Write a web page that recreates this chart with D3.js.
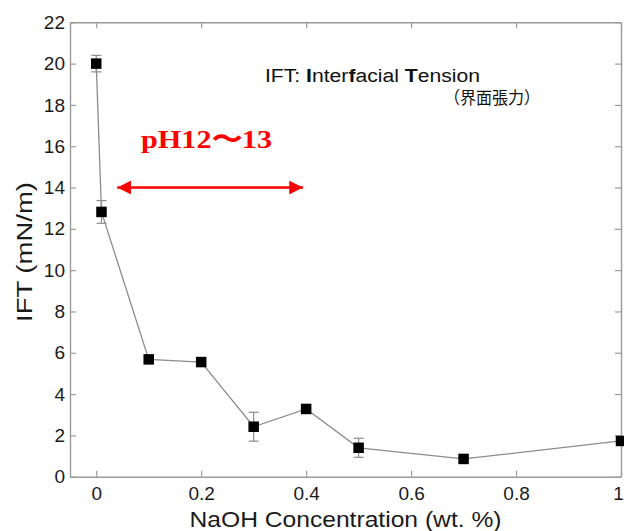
<!DOCTYPE html>
<html>
<head>
<meta charset="utf-8">
<script src="https://cdn.jsdelivr.net/npm/d3@7"></script>
<style>
  body { margin: 0; background: #fff; }
  text { font-family: "Liberation Sans", Arial, sans-serif; }
</style>
</head>
<body>
<div id="chart"></div>
<script>
const width = 624;
const height = 531;

// NaOH concentration (wt. %) and IFT (mN/m)
const naoh = [0, 0.01, 0.1, 0.2, 0.3, 0.4, 0.5, 0.7, 1.0];
const ift = [20.0, 12.82, 5.68, 5.55, 2.42, 3.28, 1.40, 0.86, 1.73];
const iftErr = [0.4, 0.55, 0, 0, 0.7, 0, 0.46, 0, 0];

const xTicks = [0, 0.2, 0.4, 0.6, 0.8, 1];
const yTicks = [0, 2, 4, 6, 8, 10, 12, 14, 16, 18, 20, 22];

// pH range arrow (data units)
const phArrow = [0.04, 0.394];
const phArrowY = 14;

const margin = { left: 70, right: 3, top: 22.3, bottom: 54.3 };

const x = d3
  .scaleLinear()
  .domain([-0.05, 1])
  .range([margin.left, width - margin.right]);

const y = d3
  .scaleLinear()
  .domain([0, 22])
  .range([height - margin.bottom, margin.top]);

const svg = d3
  .select("#chart")
  .append("svg")
  .attr("width", width)
  .attr("height", height);

const frameColor = "#9a9a9a";
const tickLen = 6;

// axes (ticks inward, mirrored on top/right)
const xAxis = d3
  .axisBottom(x)
  .tickValues(xTicks)
  .tickSizeInner(-tickLen)
  .tickSizeOuter(0)
  .tickPadding(10)
  .tickFormat((d) => (d === 0 || d === 1 ? d : d3.format(".1f")(d)));

const yAxis = d3
  .axisLeft(y)
  .tickValues(yTicks)
  .tickSizeInner(-tickLen)
  .tickSizeOuter(0)
  .tickPadding(5);

const gx = svg
  .append("g")
  .attr("transform", `translate(0,${y(0)})`)
  .call(xAxis);

const gy = svg
  .append("g")
  .attr("transform", `translate(${x(-0.05)},0)`)
  .call(yAxis);

svg
  .append("g")
  .attr("transform", `translate(0,${y(22)})`)
  .call(d3.axisTop(x).tickValues(xTicks).tickSizeInner(-tickLen).tickSizeOuter(0).tickFormat(""));

svg
  .append("g")
  .attr("transform", `translate(${x(1)},0)`)
  .call(d3.axisRight(y).tickValues(yTicks).tickSizeInner(-tickLen).tickSizeOuter(0).tickFormat(""));

svg.selectAll(".domain").attr("stroke", frameColor).attr("stroke-width", 1.4);
svg.selectAll(".tick line").attr("stroke", frameColor).attr("stroke-width", 1.2);
svg
  .selectAll(".tick text")
  .attr("fill", "#1a1a1a")
  .style("font-size", "19px");

// keep the last x label inside the picture
gx.selectAll(".tick text")
  .filter((d) => d === 1)
  .attr("dx", "-3");

// line
svg
  .append("path")
  .datum(naoh.map((d, i) => [d, ift[i]]))
  .attr("fill", "none")
  .attr("stroke", "#8c8c8c")
  .attr("stroke-width", 1.3)
  .attr("d", d3.line().x((d) => x(d[0])).y((d) => y(d[1])));

// error bars
const errData = naoh
  .map((d, i) => ({ x: d, y: ift[i], e: iftErr[i] }))
  .filter((d) => d.e > 0);

const eb = svg.append("g").attr("stroke", "#8c8c8c").attr("stroke-width", 1.2);
errData.forEach((d) => {
  eb.append("line")
    .attr("x1", x(d.x)).attr("x2", x(d.x))
    .attr("y1", y(d.y - d.e)).attr("y2", y(d.y + d.e));
  [d.y - d.e, d.y + d.e].forEach((v) => {
    eb.append("line")
      .attr("x1", x(d.x) - 5).attr("x2", x(d.x) + 5)
      .attr("y1", y(v)).attr("y2", y(v));
  });
});

// markers
const ms = 10.5;
svg
  .append("g")
  .selectAll("rect")
  .data(naoh.map((d, i) => [d, ift[i]]))
  .join("rect")
  .attr("x", (d) => x(d[0]) - ms / 2)
  .attr("y", (d) => y(d[1]) - ms / 2)
  .attr("width", ms)
  .attr("height", ms)
  .attr("fill", "#000");

// axis titles
svg
  .append("text")
  .attr("x", (x(-0.05) + x(1)) / 2)
  .attr("y", 527)
  .attr("text-anchor", "middle")
  .style("font-size", "22px")
  .attr("textLength", 312)
  .attr("lengthAdjust", "spacingAndGlyphs")
  .attr("fill", "#1a1a1a")
  .text("NaOH Concentration (wt. %)");

svg
  .append("text")
  .attr("transform", `translate(32,${252}) rotate(-90)`)
  .attr("text-anchor", "middle")
  .style("font-size", "22px")
  .attr("textLength", 140)
  .attr("lengthAdjust", "spacingAndGlyphs")
  .attr("fill", "#1a1a1a")
  .text("IFT (mN/m)");

// annotation
const note = svg
  .append("text")
  .attr("x", 265)
  .attr("y", 82)
  .style("font-size", "18px")
  .attr("textLength", 215)
  .attr("lengthAdjust", "spacingAndGlyphs")
  .attr("fill", "#111");
note.append("tspan").text("IFT: ");
note.append("tspan").attr("font-weight", "bold").text("I");
note.append("tspan").text("nter");
note.append("tspan").attr("font-weight", "bold").text("f");
note.append("tspan").text("acial ");
note.append("tspan").attr("font-weight", "bold").text("T");
note.append("tspan").text("ension");

svg
  .append("text")
  .attr("x", 444)
  .attr("y", 104)
  .style("font-family", "'Noto Sans CJK JP', sans-serif")
  .style("font-size", "17px")
  .attr("textLength", 96)
  .attr("lengthAdjust", "spacingAndGlyphs")
  .attr("fill", "#111")
  .text("（界面張力）");

// pH arrow
const defs = svg.append("defs");
["start", "end"].forEach((k) => {
  defs
    .append("marker")
    .attr("id", "arr-" + k)
    .attr("viewBox", "0 0 10 10")
    .attr("refX", k === "end" ? 10 : 0)
    .attr("refY", 5)
    .attr("markerWidth", 6.5)
    .attr("markerHeight", 5.5)
    .attr("markerUnits", "strokeWidth")
    .attr("orient", "auto")
    .append("path")
    .attr("d", k === "end" ? "M0,0L10,5L0,10Z" : "M10,0L0,5L10,10Z")
    .attr("fill", "#ff0000");
});

svg
  .append("line")
  .attr("x1", x(phArrow[0]))
  .attr("x2", x(phArrow[1]))
  .attr("y1", y(phArrowY))
  .attr("y2", y(phArrowY))
  .attr("stroke", "#ff0000")
  .attr("stroke-width", 2.5)
  .attr("marker-start", "url(#arr-start)")
  .attr("marker-end", "url(#arr-end)");

svg
  .append("text")
  .attr("x", 141)
  .attr("y", 148)
  .style("font-family", "'Liberation Serif', 'DejaVu Serif', serif")
  .style("font-size", "26px")
  .attr("font-weight", "bold")
  .attr("textLength", 131)
  .attr("lengthAdjust", "spacingAndGlyphs")
  .attr("fill", "#ff0000")
  .text("pH12〜13");
</script>
</body>
</html>
